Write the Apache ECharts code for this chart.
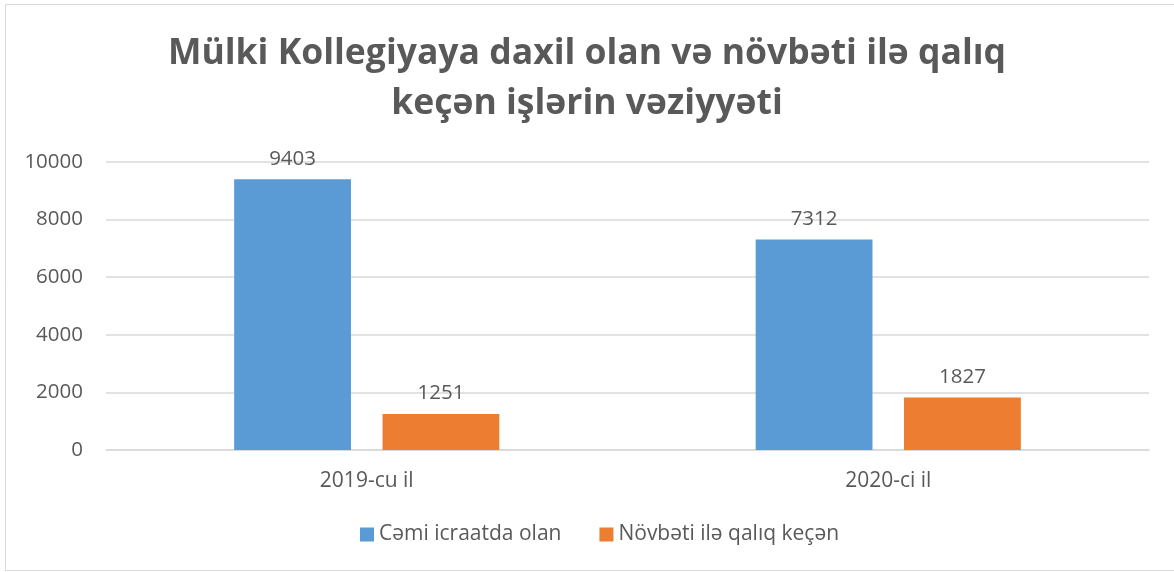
<!DOCTYPE html>
<html><head><meta charset="utf-8">
<script src="https://cdn.jsdelivr.net/npm/echarts@6/dist/echarts.min.js"></script>
<style>html,body{margin:0;padding:0;background:#fff}#c{width:1174px;height:572px}</style>
</head><body><div id="c"></div>
<script>
const titleText = 'Mülki Kollegiyaya daxil olan və növbəti ilə qalıq\nkeçən işlərin vəziyyəti';
const categories = ['2019-cu il', '2020-ci il'];
const seriesNames = ['Cəmi icraatda olan', 'Növbəti ilə qalıq keçən'];
const totalValues = [9403, 7312];
const carriedValues = [1251, 1827];
const yTicks = [0, 2000, 4000, 6000, 8000, 10000];

const FONT = 'Open Sans';
const TXT = '#595959';
const chart = echarts.init(document.getElementById('c'), null, {renderer: 'canvas'});
chart.setOption({
  animation: false,
  backgroundColor: '#fff',
  graphic: [{
    type: 'rect', shape: {x: 5.5, y: 4.5, width: 1200, height: 566},
    style: {fill: 'none', stroke: '#D9D9D9', lineWidth: 1}, silent: true, z: -1
  }],
  title: {
    text: titleText, left: 'center', top: 24,
    textStyle: {fontFamily: FONT, fontWeight: 'bold', fontSize: 35.5, color: TXT, lineHeight: 50}
  },
  legend: {
    data: seriesNames, bottom: 22, left: 355, itemWidth: 14, itemHeight: 14, itemGap: 38,
    icon: 'rect',
    textStyle: {fontFamily: FONT, fontSize: 21, color: TXT}
  },
  grid: {left: 106, right: 25, top: 162, bottom: 122},
  xAxis: {
    type: 'category', data: categories,
    axisLine: {lineStyle: {color: '#D9D9D9', width: 1.5}},
    axisTick: {show: false},
    axisLabel: {fontFamily: FONT, fontSize: 21, color: TXT, margin: 21}
  },
  yAxis: {
    type: 'value', min: yTicks[0], max: yTicks[yTicks.length - 1], interval: 2000,
    axisLine: {show: false}, axisTick: {show: false},
    splitLine: {lineStyle: {color: '#D9D9D9', width: 1.5}},
    axisLabel: {fontFamily: FONT, fontSize: 20.5, color: TXT, margin: 23, formatter: v => String(v)}
  },
  series: [
    {name: seriesNames[0], type: 'bar', data: totalValues, barWidth: '22.4%', barGap: '27%',
     itemStyle: {color: '#5B9BD5'},
     label: {show: true, position: 'top', distance: 10, fontFamily: FONT, fontSize: 20.5, color: TXT}},
    {name: seriesNames[1], type: 'bar', data: carriedValues, barWidth: '22.4%',
     itemStyle: {color: '#ED7D31'},
     label: {show: true, position: 'top', distance: 10, fontFamily: FONT, fontSize: 20.5, color: TXT}}
  ]
});
</script></body></html>
